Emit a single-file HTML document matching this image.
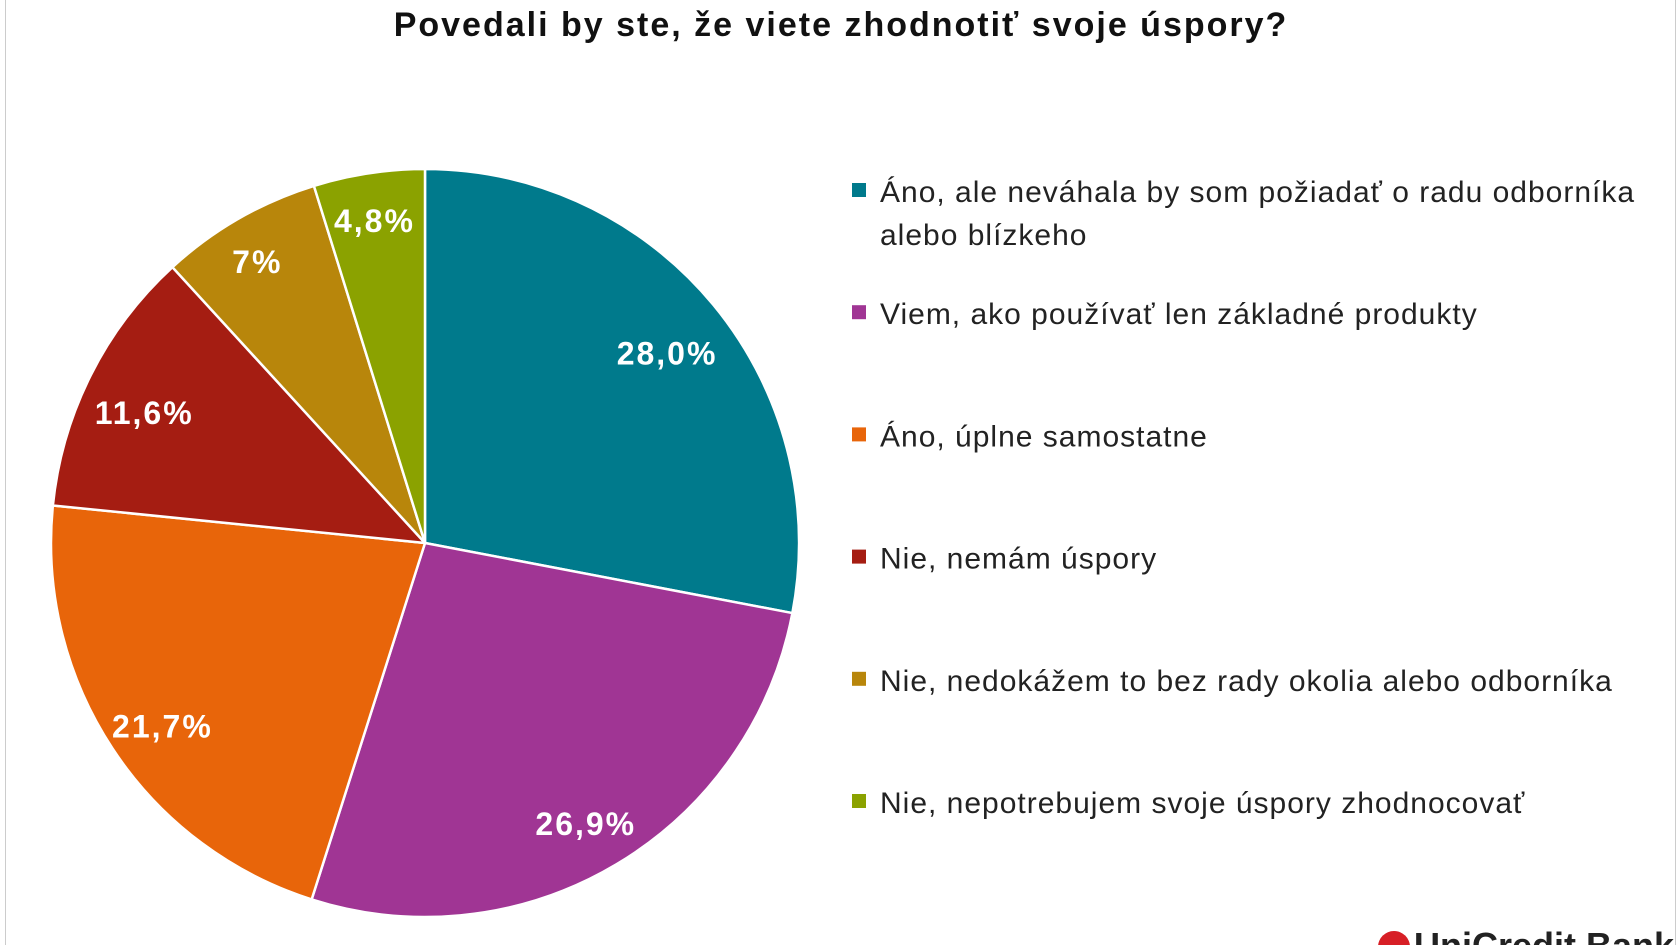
<!DOCTYPE html>
<html><head><meta charset="utf-8"><style>
html,body{margin:0;padding:0;background:#fff;}
body{width:1680px;height:945px;overflow:hidden;position:relative;font-family:"Liberation Sans",sans-serif;}
</style></head><body>
<div style="position:absolute;left:5px;top:0;width:1669px;height:945px;border-left:1px solid #ccc;border-right:1px solid #ccc;"></div>
<svg id="chart" width="1680" height="945" style="position:absolute;left:0;top:0">
<text x="841" y="36" text-anchor="middle" font-family="Liberation Sans, sans-serif" font-weight="bold" font-size="34" letter-spacing="2" fill="#111">Povedali by ste, že viete zhodnotiť svoje úspory?</text>
<g id="slices"></g><g id="labels"></g><g id="legend"></g>
<g>
<circle cx="1394" cy="947" r="16" fill="#d71f26"/>
<text x="1414" y="958" font-family="Liberation Sans, sans-serif" font-weight="bold" font-size="36" fill="#222">UniCredit Bank</text>
</g>
</svg>
<script>
const categories=["Áno, ale neváhala by som požiadať o radu odborníka|alebo blízkeho","Viem, ako používať len základné produkty","Áno, úplne samostatne","Nie, nemám úspory","Nie, nedokážem to bez rady okolia alebo odborníka","Nie, nepotrebujem svoje úspory zhodnocovať"];
const values=[28.0,26.9,21.7,11.6,7,4.8];
const valueLabels=["28,0%","26,9%","21,7%","11,6%","7%","4,8%"];
const colors=["#007A8C","#A03594","#E8650A","#A51D12","#B8860B","#8BA200"];
const NS="http://www.w3.org/2000/svg";
const cx=425,cy=543,r=374;
const total=values.reduce((a,b)=>a+b,0);
function pt(frac,rad){const a=frac*2*Math.PI;return [cx+rad*Math.sin(a),cy-rad*Math.cos(a)];}
let cum=0;
const sg=document.getElementById('slices'),lg=document.getElementById('labels'),leg=document.getElementById('legend');
values.forEach((v,i)=>{
  const f0=cum/total,f1=(cum+v)/total;cum+=v;
  const p0=pt(f0,r),p1=pt(f1,r);
  const large=(f1-f0)>0.5?1:0;
  const path=document.createElementNS(NS,'path');
  path.setAttribute('d',`M${cx},${cy}L${p0[0]},${p0[1]}A${r},${r} 0 ${large} 1 ${p1[0]},${p1[1]}Z`);
  path.setAttribute('fill',colors[i]);path.setAttribute('stroke','#fff');path.setAttribute('stroke-width','2.5');
  
  
  sg.appendChild(path);
  const fr=v/total<0.1?0.9:0.84;
  const lp=pt((f0+f1)/2,r*fr);
  const t=document.createElementNS(NS,'text');
  t.setAttribute('x',lp[0]);t.setAttribute('y',lp[1]+22);t.setAttribute('text-anchor','middle');
  t.setAttribute('font-family','Liberation Sans, sans-serif');t.setAttribute('font-weight','bold');t.setAttribute('font-size','32');t.setAttribute('letter-spacing','2');t.setAttribute('fill','#fff');
  t.textContent=valueLabels[i];
  
  
  lg.appendChild(t);
  const y=191+i*122.2;
  const sq=document.createElementNS(NS,'rect');
  sq.setAttribute('x',852);sq.setAttribute('y',y-8);sq.setAttribute('width',14);sq.setAttribute('height',14);sq.setAttribute('fill',colors[i]);
  
  
  leg.appendChild(sq);
  categories[i].split('|').forEach((line,j)=>{
    const lt=document.createElementNS(NS,'text');
    lt.setAttribute('x',880);lt.setAttribute('y',y+11+j*43);
    lt.setAttribute('font-family','Liberation Sans, sans-serif');lt.setAttribute('font-size','30');lt.setAttribute('letter-spacing','1');lt.setAttribute('fill','#222');
    lt.textContent=line;
    
    
    leg.appendChild(lt);
  });
});
</script>
</body></html>
